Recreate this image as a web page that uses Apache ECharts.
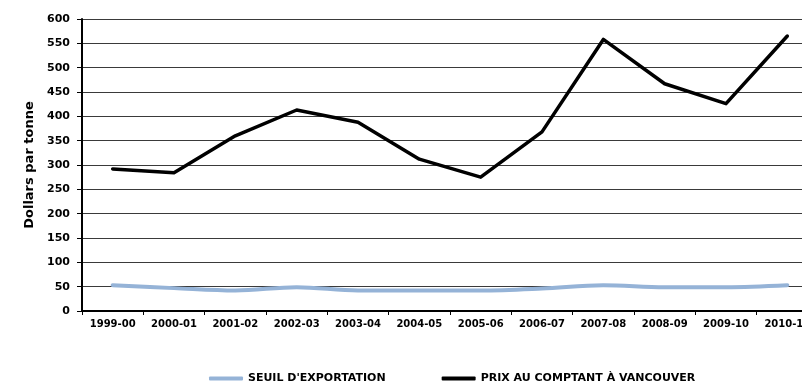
<!DOCTYPE html>
<html>
<head>
<meta charset="utf-8">
<script src="https://cdn.jsdelivr.net/npm/echarts@6/dist/echarts.min.js"></script>
<style>
  html, body { margin: 0; padding: 0; background: #fff; overflow: hidden; width: 802px; height: 384px; }
  /* la zone de tracé déborde à droite de la fenêtre visible */
  #chart { width: 818px; height: 384px; }
</style>
</head>
<body>
<div id="chart"></div>
<script>
// Campagnes agricoles (axe des catégories)
const campagnes = ['1999-00', '2000-01', '2001-02', '2002-03', '2003-04', '2004-05',
                   '2005-06', '2006-07', '2007-08', '2008-09', '2009-10', '2010-11'];

// Seuil d'exportation, en dollars par tonne
const seuilExportation = [53, 47, 42, 49, 42, 42, 42, 46, 53, 49, 49, 53];

// Prix au comptant à Vancouver, en dollars par tonne
const prixVancouver = [292, 284, 360, 413, 388, 312, 275, 368, 558, 467, 426, 565];

// Graduations de l'axe vertical
const yMin = 0, yMax = 600, yPas = 50;

const police = '"DejaVu Sans", "Liberation Sans", Arial, sans-serif';

const chart = echarts.init(document.getElementById('chart'), null, { renderer: 'canvas' });

chart.setOption({
  animation: false,
  backgroundColor: '#ffffff',
  grid: { left: 82, right: 0, top: 19, bottom: 73, containLabel: false },
  legend: {
    left: 204,
    top: 368,
    itemGap: 56,
    itemWidth: 34,
    itemHeight: 4,
    icon: 'roundRect',
    textStyle: { fontFamily: police, fontWeight: 'bold', fontSize: 11, color: '#000' },
    data: ["SEUIL D'EXPORTATION", 'PRIX AU COMPTANT À VANCOUVER']
  },
  xAxis: {
    type: 'category',
    data: campagnes,
    boundaryGap: true,
    axisLine: { lineStyle: { color: '#000', width: 2 } },
    axisTick: { show: true, length: 4, lineStyle: { color: '#000', width: 1 } },
    axisLabel: { margin: 8, fontFamily: police, fontWeight: 'bold', fontSize: 10, color: '#000', interval: 0 }
  },
  yAxis: {
    type: 'value',
    min: yMin,
    max: yMax,
    interval: yPas,
    name: 'Dollars par tonne',
    nameLocation: 'middle',
    nameGap: 42,
    nameRotate: 90,
    nameTextStyle: { fontFamily: police, fontWeight: 'bold', fontSize: 13, color: '#000' },
    axisLine: { show: true, lineStyle: { color: '#000', width: 2 } },
    axisTick: { show: true, inside: false, length: 5, lineStyle: { color: '#000', width: 1 } },
    axisLabel: { margin: 12, fontFamily: police, fontWeight: 'bold', fontSize: 11, color: '#000' },
    splitLine: { show: true, lineStyle: { color: '#3a3a3a', width: 1 } }
  },
  series: [
    {
      name: "SEUIL D'EXPORTATION",
      type: 'line',
      data: seuilExportation,
      smooth: 0.35,
      showSymbol: false,
      symbol: 'none',
      color: '#95b3d7',
      lineStyle: { color: '#95b3d7', width: 4, cap: 'round', join: 'round' },
      z: 3
    },
    {
      name: 'PRIX AU COMPTANT À VANCOUVER',
      type: 'line',
      data: prixVancouver,
      showSymbol: false,
      symbol: 'none',
      color: '#000000',
      lineStyle: { color: '#000000', width: 3.5, cap: 'round', join: 'round' },
      z: 4
    }
  ]
});
</script>
</body>
</html>
